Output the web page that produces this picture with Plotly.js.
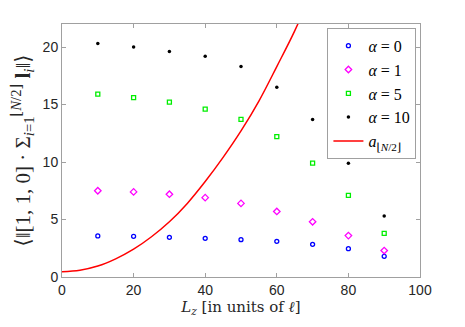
<!DOCTYPE html>
<html>
<head>
<meta charset="utf-8">
<script src="https://cdn.plot.ly/plotly-3.0.1.min.js"></script>
<style>html,body{margin:0;padding:0;background:#fff}#chart{width:465px;height:327px}</style>
</head>
<body>
<div id="chart"></div>
<script>
const Lz = [10, 20, 30, 40, 50, 60, 70, 80, 90];
const alpha0 = [3.57, 3.54, 3.45, 3.36, 3.25, 3.1, 2.84, 2.46, 1.8];
const alpha1 = [7.5, 7.4, 7.2, 6.9, 6.4, 5.7, 4.8, 3.6, 2.3];
const alpha5 = [15.9, 15.6, 15.2, 14.6, 13.7, 12.2, 9.9, 7.1, 3.8];
const alpha10 = [20.3, 20.0, 19.6, 19.2, 18.3, 16.5, 13.7, 9.9, 5.3];
const curveX = [0, 5, 10, 15, 20, 25, 30, 35, 40, 45, 50, 55, 60, 65, 70];
const curveY = [0.46, 0.59, 0.95, 1.58, 2.42, 3.5, 4.8, 6.4, 8.3, 10.4, 12.7, 15.3, 18.3, 21.4, 25];
const names = ['<i>α</i> = 0', '<i>α</i> = 1', '<i>α</i> = 5', '<i>α</i> = 10', '<i>a</i><sub>⌊<i>N</i>/2⌋</sub>'];

const traces = [
  {x: Lz, y: alpha0, name: names[0], mode: 'markers', type: 'scatter',
   marker: {symbol: 'circle-open', size: 4, color: '#0000ff', line: {width: 1.3, color: '#0000ff'}}},
  {x: Lz, y: alpha1, name: names[1], mode: 'markers', type: 'scatter',
   marker: {symbol: 'diamond-open', size: 5, color: '#ff00ff', line: {width: 1.3, color: '#ff00ff'}}},
  {x: Lz, y: alpha5, name: names[2], mode: 'markers', type: 'scatter',
   marker: {symbol: 'square-open', size: 4, color: '#00ee00', line: {width: 1.3, color: '#00ee00'}}},
  {x: Lz, y: alpha10, name: names[3], mode: 'markers', type: 'scatter',
   marker: {symbol: 'circle', size: 3.5, color: '#000000'}},
  {x: curveX, y: curveY, name: names[4], mode: 'lines', type: 'scatter',
   line: {color: '#ff0000', width: 1.5, shape: 'spline', smoothing: 1}}
];

const axCommon = {
  showgrid: false, zeroline: false, showline: true, mirror: 'ticks',
  linecolor: '#a0a0a0', linewidth: 1, ticks: 'inside', ticklen: 4, tickcolor: '#a0a0a0',
  tickfont: {family: 'Liberation Sans, Arial, sans-serif', size: 14, color: '#262626'}
};

const layout = {
  width: 465, height: 327,
  margin: {l: 62, r: 45, t: 24, b: 50},
  paper_bgcolor: '#fff', plot_bgcolor: '#fff',
  showlegend: true,
  xaxis: Object.assign({}, axCommon, {
    range: [0, 100], tickvals: [0, 20, 40, 60, 80, 100],
    title: {text: '<i>L</i><sub><i>z</i></sub> [in units of <i>ℓ</i>]', standoff: 4,
            font: {family: 'DejaVu Serif, Liberation Serif, serif', size: 15, color: '#262626'}}
  }),
  yaxis: Object.assign({}, axCommon, {
    range: [0, 22], tickvals: [0, 5, 10, 15, 20],
    title: {text: '⟨‖[1, 1, 0] · Σ<sub><i>i</i>=1</sub><sup>⌊<i>N</i>/2⌋</sup> <b>l</b><sub><i>i</i></sub>‖⟩', standoff: 6,
            font: {family: 'Liberation Serif, DejaVu Serif, serif', size: 21, color: '#262626'}}
  }),
  legend: {
    x: 0.99, y: 0.985, xanchor: 'right', yanchor: 'top',
    bgcolor: '#fff', bordercolor: '#a0a0a0', borderwidth: 1,
    font: {family: 'Liberation Serif, DejaVu Serif, serif', size: 16, color: '#000'},
    itemwidth: 30, tracegroupgap: 0
  }
};

Plotly.newPlot('chart', traces, layout, {displayModeBar: false, staticPlot: true});
</script>
</body>
</html>
